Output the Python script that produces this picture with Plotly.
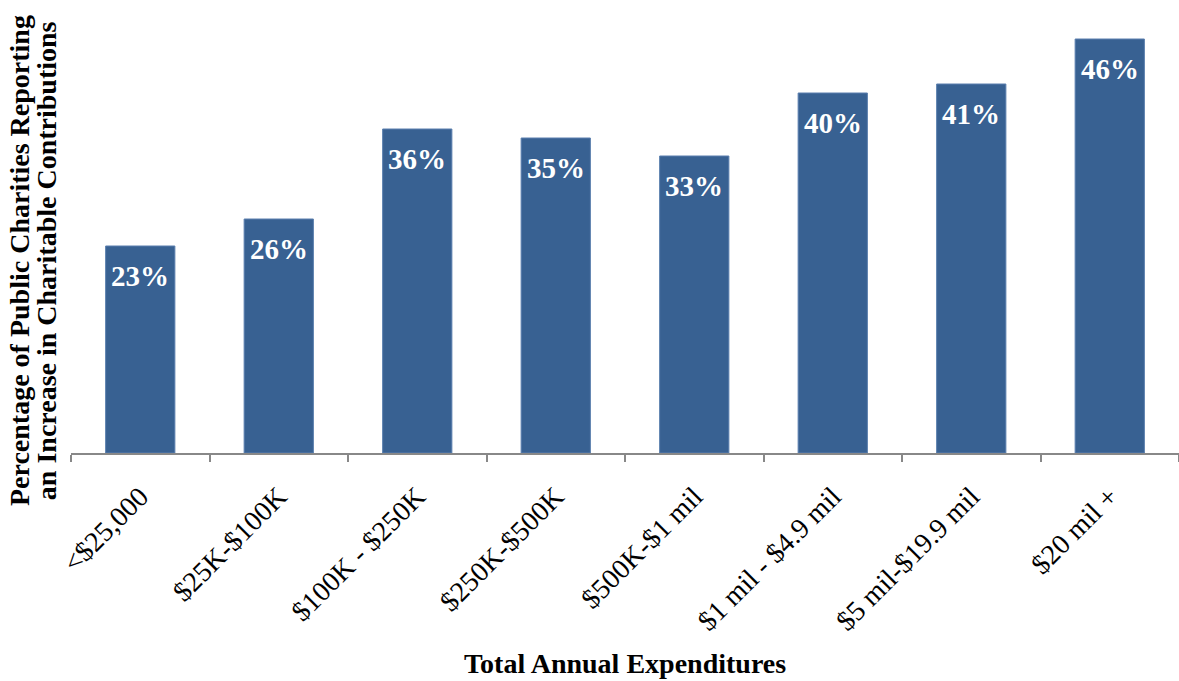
import plotly.graph_objects as go

categories = ["<$25,000", "$25K-$100K", "$100K - $250K", "$250K-$500K",
              "$500K-$1 mil", "$1 mil - $4.9 mil", "$5 mil-$19.9 mil", "$20 mil +"]
values = [0.23, 0.26, 0.36, 0.35, 0.33, 0.40, 0.41, 0.46]
labels = [f"{round(v*100)}%" for v in values]
y_title_lines = ["Percentage of Public Charities Reporting",
                 "an Increase in Charitable Contributions"]
x_title = "Total Annual Expenditures"

BAR = "#386192"
SERIF = "Liberation Serif"

fig = go.Figure()
fig.add_trace(go.Bar(
    x=categories, y=values,
    marker=dict(color=BAR, line=dict(color="#5a7fae", width=1)),
    hoverinfo="skip",
))

for c, v, t in zip(categories, values, labels):
    fig.add_annotation(x=c, y=v, text=f"<b>{t}</b>", showarrow=False,
                       yanchor="middle", yshift=-30,
                       font=dict(family=SERIF, size=29, color="white"))

for xp, line in zip([-0.0460, -0.0215], y_title_lines):
    fig.add_annotation(
        xref="paper", yref="paper", x=xp, y=0.4267,
        text=f"<b>{line}</b>", textangle=-90, showarrow=False,
        xanchor="center", yanchor="middle",
        font=dict(family=SERIF, size=28, color="black"),
    )

fig.add_annotation(
    xref="paper", yref="paper", x=0.5, y=-0.468,
    text=f"<b>{x_title}</b>", showarrow=False,
    xanchor="center", yanchor="middle",
    font=dict(family=SERIF, size=28, color="black"),
)

fig.update_layout(
    width=1179, height=681,
    margin=dict(l=71, r=0, t=3, b=228, autoexpand=False),
    paper_bgcolor="white", plot_bgcolor="white",
    bargap=0.5,
    showlegend=False,
    xaxis=dict(
        type="category", tickson="boundaries", ticks="outside", ticklen=7,
        tickcolor="#888888", tickwidth=2,
        showline=True, linecolor="#888888", linewidth=2,
        tickangle=-45, tickfont=dict(family=SERIF, size=28, color="black"),
        ticklabelstandoff=14,
        showgrid=False, automargin=False,
    ),
    yaxis=dict(range=[0, 0.5], visible=False, showgrid=False, fixedrange=True),
)

fig.write_html("out.html", config={"displayModeBar": False},
               post_script="document.body.style.margin='0';")
